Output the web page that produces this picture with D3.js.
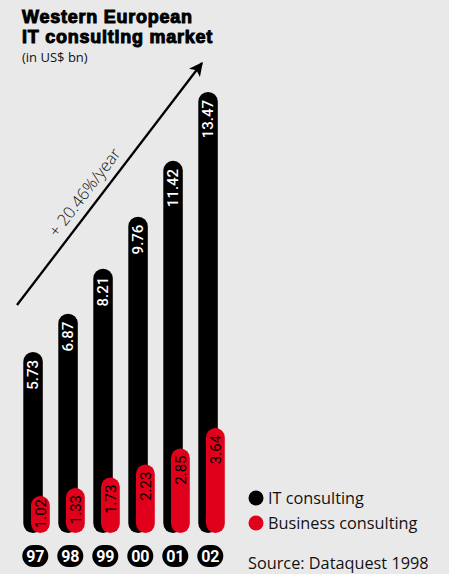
<!DOCTYPE html>
<html>
<head>
<meta charset="utf-8">
<script src="https://cdn.jsdelivr.net/npm/d3@7"></script>
<style>
  html, body { margin: 0; padding: 0; background: #e9e9e9; }
  svg { display: block; }
</style>
</head>
<body>
<div id="chart"></div>
<script>
// data
const years = ["97", "98", "99", "00", "01", "02"];
const itConsulting = [5.73, 6.87, 8.21, 9.76, 11.42, 13.47];
const businessConsulting = [1.02, 1.33, 1.73, 2.23, 2.85, 3.64];
const growthLabel = "+ 20.46%/year";
const seriesNames = ["IT consulting", "Business consulting"];

const W = 449, H = 574;
const red = "#e0001b";
const base = 533; // bottom of the bars

const svg = d3.select("#chart").append("svg")
    .attr("width", W)
    .attr("height", H);

svg.append("rect").attr("width", W).attr("height", H).attr("fill", "#e9e9e9");

// title
svg.append("g")
    .selectAll("text")
    .data(["Western European", "IT consulting market"])
    .join("text")
    .attr("x", 22).attr("y", (d, i) => 23 + i * 20.3)
    .attr("font-family", "Liberation Sans, Arial, sans-serif")
    .attr("font-size", 18).attr("font-weight", "bold")
    .attr("stroke", "#000").attr("stroke-width", 1)
    .attr("letter-spacing", 0.75)
    .text(d => d);

svg.append("text")
    .attr("x", 22).attr("y", 61.5)
    .attr("font-family", "Open Sans, sans-serif")
    .attr("font-size", 13)
    .attr("fill", "#111")
    .text("(in US$ bn)");

// scales
const x = d3.scaleBand().domain(years).range([23.3, 23.3 + 35 * years.length]);
const yIT = d3.scaleLinear().domain(d3.extent(itConsulting)).range([352, 92]);
const yBiz = d3.scaleLinear().domain(d3.extent(businessConsulting)).range([496, 428]);

const bw = 19.5;
const redOff = 7.7;

// growth arrow
svg.append("defs").append("marker")
    .attr("id", "head")
    .attr("viewBox", "0 0 10 10")
    .attr("refX", 9).attr("refY", 5)
    .attr("markerWidth", 6).attr("markerHeight", 6)
    .attr("markerUnits", "strokeWidth")
    .attr("orient", "auto")
    .append("path").attr("d", "M0,0 L10,5 L0,10 L2.5,5 Z").attr("fill", "#000");

const a0 = [17, 305], a1 = [202, 63];
svg.append("line")
    .attr("x1", a0[0]).attr("y1", a0[1])
    .attr("x2", a1[0]).attr("y2", a1[1])
    .attr("stroke", "#000").attr("stroke-width", 2.3)
    .attr("marker-end", "url(#head)");

const ang = Math.atan2(a1[1] - a0[1], a1[0] - a0[0]) * 180 / Math.PI;
svg.append("text")
    .attr("transform", `translate(57,238) rotate(${ang})`)
    .attr("font-family", "Open Sans, sans-serif")
    .attr("font-size", 16.5).attr("font-weight", 300)
    .attr("fill", "#111")
    .text(growthLabel);

// IT consulting bars (black pills)
const g = svg.append("g");
g.selectAll("rect.it")
    .data(itConsulting)
    .join("rect")
    .attr("class", "it")
    .attr("x", (d, i) => x(years[i]))
    .attr("y", d => yIT(d))
    .attr("width", bw)
    .attr("height", d => base - yIT(d))
    .attr("rx", bw / 2)
    .attr("fill", "#000");

g.selectAll("text.it")
    .data(itConsulting)
    .join("text")
    .attr("class", "it")
    .attr("transform", (d, i) => `translate(${x(years[i]) + bw / 2},${yIT(d) + 8}) rotate(-90)`)
    .attr("dy", "0.35em")
    .attr("text-anchor", "end")
    .attr("font-family", "Roboto, sans-serif")
    .attr("font-size", 15)
    .attr("font-weight", 500)
    .attr("fill", "#fff")
    .text(d => d3.format(".2f")(d));

// Business consulting bars (red pills)
g.selectAll("rect.biz")
    .data(businessConsulting)
    .join("rect")
    .attr("class", "biz")
    .attr("x", (d, i) => x(years[i]) + redOff)
    .attr("y", d => yBiz(d))
    .attr("width", bw - 0.7)
    .attr("height", d => base - yBiz(d))
    .attr("rx", (bw - 0.7) / 2)
    .attr("fill", red);

g.selectAll("text.biz")
    .data(businessConsulting)
    .join("text")
    .attr("class", "biz")
    .attr("transform", (d, i) => `translate(${x(years[i]) + redOff + (bw - 0.7) / 2},${Math.min(yBiz(d) + 7, base - 34)}) rotate(-90)`)
    .attr("dy", "0.35em")
    .attr("text-anchor", "end")
    .attr("font-family", "Roboto, sans-serif")
    .attr("font-size", 15)
    .attr("fill", "#000")
    .text(d => d3.format(".2f")(d));

// year pills
const yr = svg.append("g").selectAll("g")
    .data(years)
    .join("g")
    .attr("transform", d => `translate(${x(d) + 12},556)`);
yr.append("rect")
    .attr("x", -13).attr("y", -11)
    .attr("width", 26).attr("height", 22)
    .attr("rx", 11)
    .attr("fill", "#000");
yr.append("text")
    .attr("text-anchor", "middle")
    .attr("dy", "0.36em")
    .attr("font-family", "Roboto, sans-serif")
    .attr("font-size", 16)
    .attr("font-weight", "bold")
    .attr("fill", "#fff")
    .text(d => d);

// legend
const legend = svg.append("g")
    .selectAll("g")
    .data(seriesNames)
    .join("g")
    .attr("transform", (d, i) => `translate(256,${498 + i * 25})`);
legend.append("circle")
    .attr("r", 7.5)
    .attr("fill", (d, i) => i === 0 ? "#000" : red);
legend.append("text")
    .attr("x", 12)
    .attr("y", 6)
    .attr("font-family", "Open Sans, sans-serif")
    .attr("font-size", 16.3)
    .attr("fill", "#111")
    .text(d => d);

svg.append("text")
    .attr("x", 248).attr("y", 569)
    .attr("font-family", "Open Sans, sans-serif")
    .attr("font-size", 16.3)
    .attr("fill", "#111")
    .text("Source: Dataquest 1998");
</script>
</body>
</html>
